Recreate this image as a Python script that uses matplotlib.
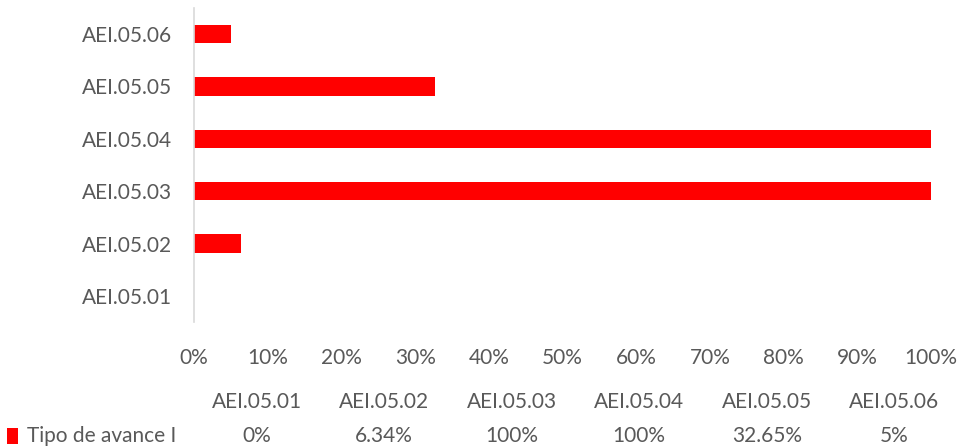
import matplotlib.pyplot as plt
from matplotlib.patches import Rectangle

categories = ["AEI.05.01", "AEI.05.02", "AEI.05.03", "AEI.05.04", "AEI.05.05", "AEI.05.06"]
values = [0, 6.34, 100, 100, 32.65, 5]
value_labels = ["0%", "6.34%", "100%", "100%", "32.65%", "5%"]
series_name = "Tipo de avance I"

red = "#FF0000"
gray = "#595959"
fs = 15
plt.rcParams['font.family'] = ['Lato', 'DejaVu Sans']

fig = plt.figure(figsize=(9.62, 4.47), dpi=100)
ax = fig.add_axes([194 / 962, 1 - 322 / 447, (931 - 194) / 962, (322 - 8) / 447])

ax.barh(range(len(categories)), values, height=0.35, color=red)
ax.set_ylim(-0.5, len(categories) - 0.5)
ax.set_xlim(0, 100)
ax.set_yticks(range(len(categories)))
ax.set_yticklabels(categories)
ax.set_xticks(range(0, 101, 10))
ax.set_xticklabels([f"{t}%" for t in range(0, 101, 10)])
ax.tick_params(length=0, labelsize=fs, colors=gray)
ax.tick_params(axis='x', pad=19)
ax.tick_params(axis='y', pad=16)
for s in ["top", "right", "bottom"]:
    ax.spines[s].set_visible(False)
ax.spines["left"].set_color("#D9D9D9")
ax.spines["left"].set_linewidth(1.2)

# data table below the chart
col_w = 127.5
x0 = 193
for i, (cat, lab) in enumerate(zip(categories, value_labels)):
    cx = (x0 + col_w * (i + 0.5)) / 962
    fig.text(cx, 1 - 402 / 447, cat, ha="center", va="center", fontsize=fs, color=gray)
    fig.text(cx, 1 - 436 / 447, lab, ha="center", va="center", fontsize=fs, color=gray)

fig.patches.append(Rectangle((7 / 962, 1 - 444 / 447), 11 / 962, 16 / 447,
                             transform=fig.transFigure, color=red, linewidth=0))
fig.text(27 / 962, 1 - 436 / 447, series_name, ha="left", va="center", fontsize=fs, color=gray)

fig.savefig("out.png", dpi=100)
